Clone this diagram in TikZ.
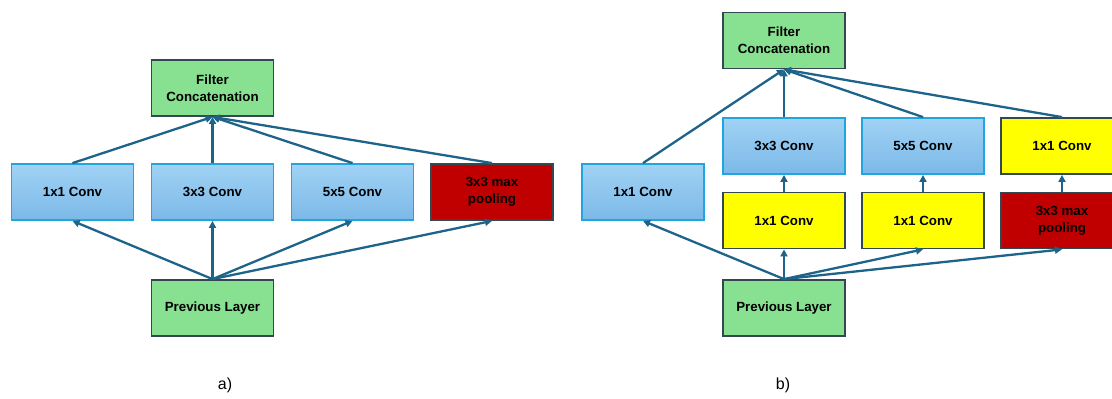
\documentclass[tikz,border=0pt]{standalone}
\usepackage{fontspec}
\setmainfont{Liberation Sans}
\usetikzlibrary{arrows.meta}
\definecolor{boxgreen}{RGB}{136,225,145}
\definecolor{boxedge}{RGB}{52,72,82}
\definecolor{convtop}{RGB}{160,210,244}
\definecolor{convbot}{RGB}{124,185,232}
\definecolor{convedge}{RGB}{34,165,222}
\definecolor{poolred}{RGB}{192,0,0}
\definecolor{reduceyellow}{RGB}{255,255,0}
\definecolor{flow}{RGB}{30,100,138}
\tikzset{
  block/.style={rectangle, minimum width=122pt, minimum height=56pt, inner sep=0pt,
    align=center, font=\fontsize{13.3}{17}\selectfont\bfseries, line width=1.8pt},
  layerbox/.style={block, fill=boxgreen, draw=boxedge},
  convbox/.style={block, top color=convtop, bottom color=convbot, draw=convedge},
  reducebox/.style={block, fill=reduceyellow, draw=boxedge},
  poolbox/.style={block, fill=poolred, draw=boxedge},
  link/.style={draw=flow, line width=2.3pt, -{Triangle[length=7pt,width=7pt]}},
  caption/.style={font=\fontsize{16}{18}\selectfont}
}
\begin{document}
\begin{tikzpicture}[x=1pt,y=-1pt]
\useasboundingbox (0,0) rectangle (1112,399);

% naive inception module
\node[layerbox] (aconcat) at (212.5,88) {Filter\\Concatenation};
\node[convbox] (a1) at (72.5,192) {1x1 Conv};
\node[convbox] (a3) at (212.5,192) {3x3 Conv};
\node[convbox] (a5) at (352.5,192) {5x5 Conv};
\node[poolbox] (apool) at (492,192) {3x3 max\\pooling};
\node[layerbox] (aprev) at (212.5,308) {Previous Layer};

\foreach \n in {a1,a3,a5,apool} {
  \draw[link] (aprev.north) -- (\n.south);
  \draw[link] (\n.north) -- (aconcat.south);
}
\node[caption] (acap) at (225,385) {a)};

% inception module with dimension reduction
\node[layerbox] (bconcat) at (784,40.5) {Filter\\Concatenation};
\node[convbox] (b1) at (643,192) {1x1 Conv};
\node[convbox] (b3) at (784,146) {3x3 Conv};
\node[convbox] (b5) at (923,146) {5x5 Conv};
\node[reducebox] (bproj) at (1062,146) {1x1 Conv};
\node[reducebox] (br3) at (784,220.5) {1x1 Conv};
\node[reducebox] (br5) at (923,220.5) {1x1 Conv};
\node[poolbox] (bpool) at (1062,220.5) {3x3 max\\pooling};
\node[layerbox] (bprev) at (784,308) {Previous Layer};

\foreach \n in {b1,br3,br5,bpool}
  \draw[link] (bprev.north) -- (\n.south);
\draw[link] (br3.north) -- (b3.south);
\draw[link] (br5.north) -- (b5.south);
\draw[link] (bpool.north) -- (bproj.south);
\foreach \n in {b1,b3,b5,bproj}
  \draw[link] (\n.north) -- (bconcat.south);
\node[caption] (bcap) at (783,385) {b)};
\end{tikzpicture}
\end{document}
